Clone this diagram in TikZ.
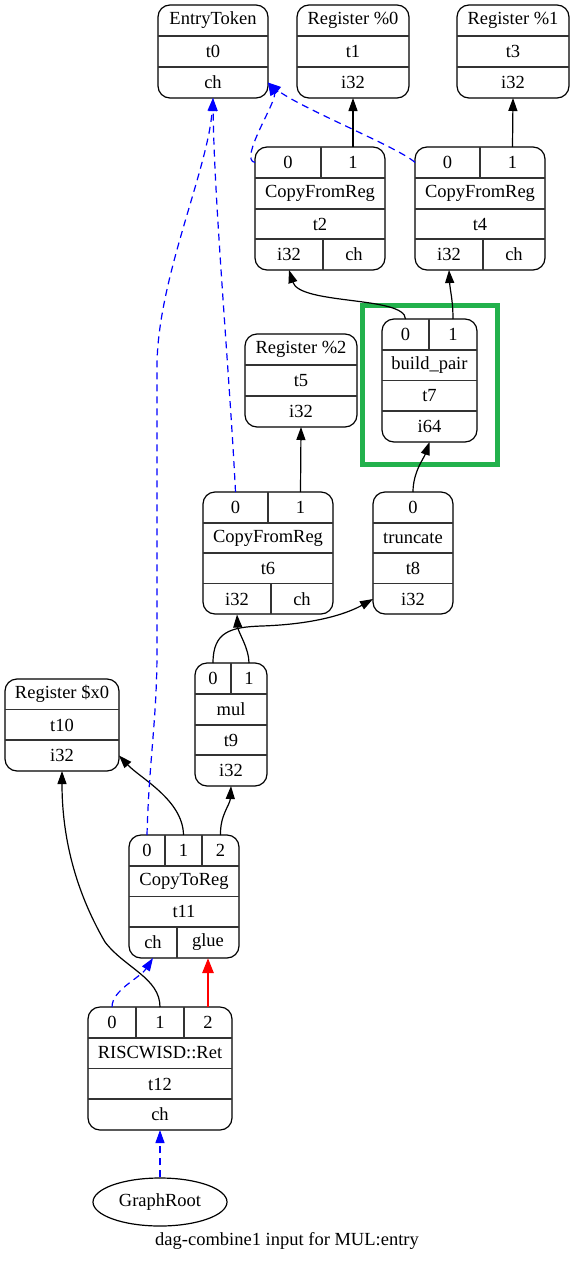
\documentclass[tikz,border=0pt]{standalone}
\usepackage{fontspec}
\setmainfont{Liberation Serif}
\usetikzlibrary{arrows.meta,shapes.geometric}
\tikzset{
  rec/.style={draw, rounded corners=12pt, line width=1.2pt, inner sep=0pt},
  cell/.style={inner sep=0pt, outer sep=0pt, minimum height=31pt, minimum width=40pt},
  sep/.style={line width=1.1pt, black!80},
  dataedge/.style={line width=1.2pt, -{Triangle[length=13pt,width=9pt]}},
  chainedge/.style={dataedge, blue, dash pattern=on 7pt off 5pt},
  glueedge/.style={line width=2.6pt, red, -{Triangle[length=15pt,width=11pt]}}
}
\begin{document}
\begin{tikzpicture}[x=1pt, y=-1pt, font=\fontsize{18.5}{20}\selectfont]
  \useasboundingbox (0,0) rectangle (575,1263);

  % EntryToken t0
  \node[rec, minimum width=110pt, minimum height=93pt] (t0) at (213,51.5) {};
  \draw[sep] (158,36) -- (268,36);
  \draw[sep] (158,67) -- (268,67);
  \node[cell, minimum width=110pt] (t0name) at (213,20.5) {EntryToken};
  \node[cell, minimum width=110pt] (t0id) at (213,51.5) {t0};
  \node[cell, minimum width=110pt] (t0out) at (213,82.5) {ch};

  % Register %0 t1
  \node[rec, minimum width=112pt, minimum height=93pt] (t1) at (353,51.5) {};
  \draw[sep] (297,36) -- (409,36);
  \draw[sep] (297,67) -- (409,67);
  \node[cell, minimum width=112pt] (t1name) at (353,20.5) {Register \%0};
  \node[cell, minimum width=112pt] (t1id) at (353,51.5) {t1};
  \node[cell, minimum width=112pt] (t1out) at (353,82.5) {i32};

  % Register %1 t3
  \node[rec, minimum width=112pt, minimum height=93pt] (t3) at (513,51.5) {};
  \draw[sep] (457,36) -- (569,36);
  \draw[sep] (457,67) -- (569,67);
  \node[cell, minimum width=112pt] (t3name) at (513,20.5) {Register \%1};
  \node[cell, minimum width=112pt] (t3id) at (513,51.5) {t3};
  \node[cell, minimum width=112pt] (t3out) at (513,82.5) {i32};

  % CopyFromReg t2
  \node[rec, minimum width=130pt, minimum height=123pt] (t2) at (320,208.5) {};
  \draw[sep] (255,178) -- (385,178);
  \draw[sep] (255,209) -- (385,209);
  \draw[sep] (255,239) -- (385,239);
  \draw[sep] (321,147) -- (321,178);
  \draw[sep] (323,239) -- (323,270);
  \node[cell, minimum width=66pt] (t2p0) at (288,162.5) {0};
  \node[cell, minimum width=64pt] (t2p1) at (353,162.5) {1};
  \node[cell, minimum width=130pt] (t2name) at (320,193.5) {CopyFromReg};
  \node[cell, minimum width=130pt] (t2id) at (320,224) {t2};
  \node[cell, minimum width=68pt] (t2val) at (289,254.5) {i32};
  \node[cell, minimum width=62pt] (t2ch) at (354,254.5) {ch};

  % CopyFromReg t4
  \node[rec, minimum width=130pt, minimum height=123pt] (t4) at (480,208.5) {};
  \draw[sep] (415,178) -- (545,178);
  \draw[sep] (415,209) -- (545,209);
  \draw[sep] (415,239) -- (545,239);
  \draw[sep] (480,147) -- (480,178);
  \draw[sep] (483,239) -- (483,270);
  \node[cell, minimum width=65pt] (t4p0) at (447.5,162.5) {0};
  \node[cell, minimum width=65pt] (t4p1) at (512.5,162.5) {1};
  \node[cell, minimum width=130pt] (t4name) at (480,193.5) {CopyFromReg};
  \node[cell, minimum width=130pt] (t4id) at (480,224) {t4};
  \node[cell, minimum width=68pt] (t4val) at (449,254.5) {i32};
  \node[cell, minimum width=62pt] (t4ch) at (514,254.5) {ch};

  % Register %2 t5
  \node[rec, minimum width=112pt, minimum height=93pt] (t5) at (301,380.5) {};
  \draw[sep] (245,365) -- (357,365);
  \draw[sep] (245,396) -- (357,396);
  \node[cell, minimum width=112pt] (t5name) at (301,349.5) {Register \%2};
  \node[cell, minimum width=112pt] (t5id) at (301,380.5) {t5};
  \node[cell, minimum width=112pt] (t5out) at (301,411.5) {i32};

  % build_pair t7, marked
  \draw[line width=5pt, color={rgb,255:red,34;green,177;blue,76}] (362,305) rectangle (497,464);
  \node[rec, minimum width=95pt, minimum height=123pt] (t7) at (429.5,380.5) {};
  \draw[sep] (382,350) -- (477,350);
  \draw[sep] (382,380.5) -- (477,380.5);
  \draw[sep] (382,411) -- (477,411);
  \draw[sep] (429,319) -- (429,350);
  \node[cell, minimum width=47pt] (t7p0) at (405.5,334.5) {0};
  \node[cell, minimum width=48pt] (t7p1) at (453,334.5) {1};
  \node[cell, minimum width=95pt] (t7name) at (429.5,365) {build\_pair};
  \node[cell, minimum width=95pt] (t7id) at (429.5,396) {t7};
  \node[cell, minimum width=95pt] (t7out) at (429.5,426.5) {i64};

  % CopyFromReg t6
  \node[rec, minimum width=130pt, minimum height=122pt] (t6) at (268,553) {};
  \draw[sep] (203,523) -- (333,523);
  \draw[sep] (203,553) -- (333,553);
  \draw[sep] (203,583.5) -- (333,583.5);
  \draw[sep] (268,492) -- (268,523);
  \draw[sep] (271,583.5) -- (271,614);
  \node[cell, minimum width=65pt] (t6p0) at (235.5,507.5) {0};
  \node[cell, minimum width=65pt] (t6p1) at (300.5,507.5) {1};
  \node[cell, minimum width=130pt] (t6name) at (268,538) {CopyFromReg};
  \node[cell, minimum width=130pt] (t6id) at (268,568) {t6};
  \node[cell, minimum width=68pt] (t6val) at (237,599) {i32};
  \node[cell, minimum width=62pt] (t6ch) at (302,599) {ch};

  % truncate t8
  \node[rec, minimum width=80pt, minimum height=122pt] (t8) at (413,553) {};
  \draw[sep] (373,523) -- (453,523);
  \draw[sep] (373,553) -- (453,553);
  \draw[sep] (373,583.5) -- (453,583.5);
  \node[cell, minimum width=80pt] (t8p0) at (413,507.5) {0};
  \node[cell, minimum width=80pt] (t8name) at (413,538) {truncate};
  \node[cell, minimum width=80pt] (t8id) at (413,568.5) {t8};
  \node[cell, minimum width=80pt] (t8out) at (413,599) {i32};

  % mul t9
  \node[rec, minimum width=72pt, minimum height=123pt] (t9) at (231,724.5) {};
  \draw[sep] (195,694) -- (267,694);
  \draw[sep] (195,725) -- (267,725);
  \draw[sep] (195,755) -- (267,755);
  \draw[sep] (231,663) -- (231,694);
  \node[cell, minimum width=36pt] (t9p0) at (213,678.5) {0};
  \node[cell, minimum width=36pt] (t9p1) at (249,678.5) {1};
  \node[cell, minimum width=72pt] (t9name) at (231,709.5) {mul};
  \node[cell, minimum width=72pt] (t9id) at (231,740) {t9};
  \node[cell, minimum width=72pt] (t9out) at (231,770.5) {i32};

  % Register $x0 t10
  \node[rec, minimum width=114pt, minimum height=92pt] (t10) at (62,725) {};
  \draw[sep] (5,709.5) -- (119,709.5);
  \draw[sep] (5,740) -- (119,740);
  \node[cell, minimum width=114pt] (t10name) at (62,694) {Register \$x0};
  \node[cell, minimum width=114pt] (t10id) at (62,725) {t10};
  \node[cell, minimum width=114pt] (t10out) at (62,755.5) {i32};

  % CopyToReg t11
  \node[rec, minimum width=110pt, minimum height=123pt] (t11) at (184,896.5) {};
  \draw[sep] (129,866) -- (239,866);
  \draw[sep] (129,896.5) -- (239,896.5);
  \draw[sep] (129,927) -- (239,927);
  \draw[sep] (165,835) -- (165,866);
  \draw[sep] (202,835) -- (202,866);
  \draw[sep] (177,927) -- (177,958);
  \node[cell, minimum width=36pt] (t11p0) at (147,850.5) {0};
  \node[cell, minimum width=37pt] (t11p1) at (183.5,850.5) {1};
  \node[cell, minimum width=37pt] (t11p2) at (220.5,850.5) {2};
  \node[cell, minimum width=110pt] (t11name) at (184,881) {CopyToReg};
  \node[cell, minimum width=110pt] (t11id) at (184,911.5) {t11};
  \node[cell, minimum width=48pt] (t11ch) at (153,942.5) {ch};
  \node[cell, minimum width=62pt] (t11glue) at (208,942.5) {glue};

  % RISCWISD::Ret t12
  \node[rec, minimum width=144pt, minimum height=123pt] (t12) at (160,1068.5) {};
  \draw[sep] (88,1038) -- (232,1038);
  \draw[sep] (88,1068.5) -- (232,1068.5);
  \draw[sep] (88,1099) -- (232,1099);
  \draw[sep] (136,1007) -- (136,1038);
  \draw[sep] (184,1007) -- (184,1038);
  \node[cell, minimum width=48pt] (t12p0) at (112,1022.5) {0};
  \node[cell, minimum width=48pt] (t12p1) at (160,1022.5) {1};
  \node[cell, minimum width=48pt] (t12p2) at (208,1022.5) {2};
  \node[cell, minimum width=144pt] (t12name) at (160,1053) {RISCWISD::Ret};
  \node[cell, minimum width=144pt] (t12id) at (160,1084) {t12};
  \node[cell, minimum width=144pt] (t12out) at (160,1114.5) {ch};

  \node[draw, ellipse, line width=1.2pt, inner sep=0pt, minimum width=134pt, minimum height=48pt] (root) at (160,1202) {GraphRoot};
  \node (title) at (287,1241) {dag-combine1 input for MUL:entry};

  % value edges
  \draw[dataedge] (t2p1.north) -- (t1out.south);
  \draw[dataedge] (t4p1.north) -- (t3out.south);
  \draw[dataedge] (t6p1.north) -- (t5out.south);
  \draw[dataedge] (t7p0.north) .. controls (405,296) and (300,305) .. (t2val.south);
  \draw[dataedge] (t7p1.north) .. controls (453,300) and (450,290) .. (t4val.south);
  \draw[dataedge] (t8p0.north) .. controls (413,472) and (424,458) .. (t7out.south);
  \draw[dataedge] (t9p0.north) .. controls (213,632) and (230,627) .. (262,626) .. controls (320,624) and (350,612) .. (t8out.west);
  \draw[dataedge] (t9p1.north) .. controls (249,648) and (238,632) .. (t6val.south);
  \draw[dataedge] (t11p1.north) .. controls (183,800) and (140,778) .. (t10out.east);
  \draw[dataedge] (t11p2.north) .. controls (220,815) and (230,805) .. (t9out.south);
  \draw[dataedge] (t12p1.north) .. controls (160,978) and (125,968) .. (105,942) .. controls (72,885) and (62,830) .. (t10out.south);
  \draw[glueedge] (t12p2.north) -- (t11glue.south);

  % chain edges
  \draw[chainedge] (t2p0.west) .. controls (238,160) and (278,100) .. (t0out.east);
  \draw[chainedge] (t4p0.west) .. controls (400,148) and (300,108) .. (t0out.east);
  \draw[chainedge] (t6p0.north) .. controls (230,380) and (214,200) .. (t0out.south);
  \draw[chainedge] (t11p0.north) .. controls (149,760) and (157,720) .. (157,650) -- (157,367) .. controls (157,280) and (208,170) .. (t0out.south);
  \draw[chainedge] (t12p0.north) .. controls (112,990) and (140,978) .. (t11ch.south);
  \draw[chainedge] (root.north) -- (t12out.south);
\end{tikzpicture}
\end{document}
